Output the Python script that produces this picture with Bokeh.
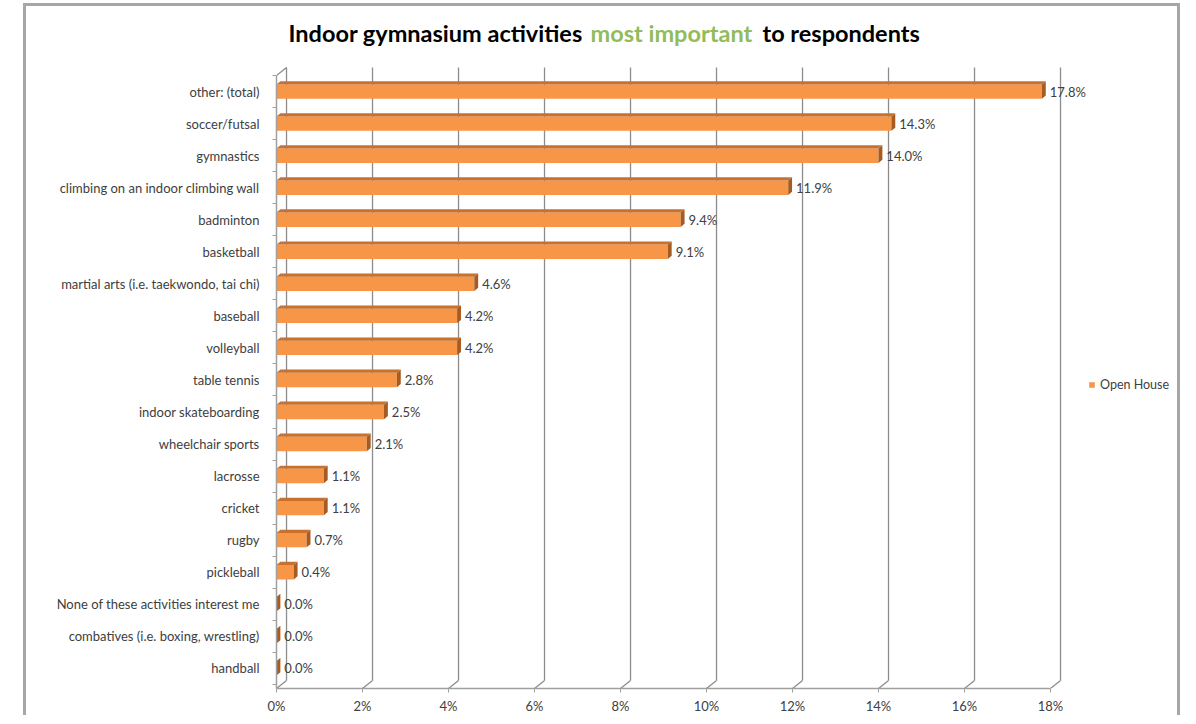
import numpy as np
from bokeh.plotting import figure
from bokeh.models import Range1d, FixedTicker, Label, Legend, LegendItem
from bokeh.core.properties import value
from bokeh.embed import file_html
from bokeh.resources import INLINE

# ---------------- data ----------------
categories = [
    "other: (total)", "soccer/futsal", "gymnastics",
    "climbing on an indoor climbing wall", "badminton", "basketball",
    "martial arts (i.e. taekwondo, tai chi)", "baseball", "volleyball",
    "table tennis", "indoor skateboarding", "wheelchair sports", "lacrosse",
    "cricket", "rugby", "pickleball", "None of these activities interest me",
    "combatives (i.e. boxing, wrestling)", "handball",
]
values = [17.8, 14.3, 14.0, 11.9, 9.4, 9.1, 4.6, 4.2, 4.2, 2.8, 2.5, 2.1,
          1.1, 1.1, 0.7, 0.4, 0.0, 0.0, 0.0]
value_labels = [f"{v:.1f}%" for v in values]
x_ticks = [0, 2, 4, 6, 8, 10, 12, 14, 16, 18]
x_tick_labels = ["0%", "2%", "4%", "6%", "8%", "10%", "12%", "14%", "16%", "18%"]
series_name = "Open House"
title_parts = ["Indoor gymnasium activities", "most important", "to respondents"]

# ---------------- style ----------------
FONT = "Lato"
TXT = "#404040"
GRID = "#8C8C8C"
AXIS = "#A0A0A0"
FRONT = "#F79646"
TOP = "#C8712F"
SIDE = "#A65B22"
GREEN = "#92BB5A"
PX_X = 43.0          # pixels per percent
PX_Y = 32.04         # pixels per category row
WALL_DX, WALL_DY = 0.233, 0.25
BAR_DX, BAR_DY, BAR_H = 0.09, 0.10, 0.45

n = len(categories)
idx = np.arange(n)
vals = np.array(values)
y_bottom = n - 1 + 0.63
frame_h = 712 - 6 - 30
y_top = y_bottom - frame_h / PX_Y

p = figure(width=1157, height=712, title=None,
           x_range=Range1d(0, 904 / PX_X), y_range=Range1d(y_bottom, y_top),
           output_backend="svg", toolbar_location=None,
           min_border_left=250, min_border_right=3, min_border_top=6, min_border_bottom=30)
p.styles = {"border-left": "3px solid #A6A6A6", "border-top": "3px solid #A6A6A6",
            "border-right": "3px solid #A6A6A6", "margin-left": "23px", "margin-top": "3px"}
p.outline_line_color = None
p.xgrid.visible = False
p.ygrid.visible = False
p.background_fill_color = "white"

# ---------------- 3D walls ----------------
xt = np.array(x_ticks, dtype=float)
p.segment(x0=xt + WALL_DX, y0=np.full(len(xt), -0.5 - WALL_DY),
          x1=xt + WALL_DX, y1=np.full(len(xt), y_bottom - WALL_DY),
          line_color=GRID, line_width=1.3)
p.segment(x0=xt, y0=np.full(len(xt), y_bottom),
          x1=xt + WALL_DX, y1=np.full(len(xt), y_bottom - WALL_DY),
          line_color=GRID, line_width=1.3)
p.segment(x0=[0], y0=[-0.5], x1=[WALL_DX], y1=[-0.5 - WALL_DY],
          line_color=GRID, line_width=1.3)

# ---------------- bars ----------------
bars = p.hbar(y=idx, left=0, right=vals, height=BAR_H, fill_color=FRONT, line_color=None)
top_xs = [[0, v, v + BAR_DX, BAR_DX] for v in vals]
top_ys = [[i - BAR_H / 2, i - BAR_H / 2, i - BAR_H / 2 - BAR_DY, i - BAR_H / 2 - BAR_DY] for i in idx]
p.patches(xs=top_xs, ys=top_ys, fill_color=TOP, line_color=None)
side_xs = [[v, v + BAR_DX, v + BAR_DX, v] for v in vals]
side_ys = [[i - BAR_H / 2, i - BAR_H / 2 - BAR_DY, i + BAR_H / 2 - BAR_DY, i + BAR_H / 2] for i in idx]
p.patches(xs=side_xs, ys=side_ys, fill_color=SIDE, line_color=None)

p.text(x=vals + BAR_DX, y=idx, text=value_labels, x_offset=4,
       text_baseline="middle", text_align="left", text_font=value(FONT),
       text_font_size="13px", text_color=TXT)

# ---------------- axes ----------------
xa = p.xaxis[0]
xa.ticker = FixedTicker(ticks=x_ticks)
xa.major_label_overrides = {t: l for t, l in zip(x_ticks, x_tick_labels)}
xa.bounds = (0, x_ticks[-1])
xa.axis_line_color = AXIS
xa.axis_line_width = 1.5
xa.major_tick_line_color = AXIS
xa.major_tick_out = 4
xa.major_tick_in = 0
xa.minor_tick_line_color = None
xa.major_label_standoff = 5
xa.major_label_text_font = FONT
xa.major_label_text_font_size = "13px"
xa.major_label_text_color = TXT

ya = p.yaxis[0]
ya.ticker = FixedTicker(ticks=list(idx), minor_ticks=list(np.arange(n + 1) - 0.5))
ya.major_label_overrides = {int(i): c for i, c in zip(idx, categories)}
ya.bounds = (-0.5, y_bottom)
ya.axis_line_color = AXIS
ya.axis_line_width = 1.5
ya.major_tick_line_color = None
ya.major_tick_out = 0
ya.major_tick_in = 0
ya.minor_tick_line_color = AXIS
ya.minor_tick_out = 4
ya.minor_tick_in = 0
ya.major_label_standoff = 13
ya.major_label_text_font = FONT
ya.major_label_text_font_size = "13px"
ya.major_label_text_color = TXT

# ---------------- title (pixel offsets from the 0% / first-row point) ----------------
title_px_x = [12, 314, 486]
title_px_y = -59
for txt, px, col in zip(title_parts, title_px_x, ["#000000", GREEN, "#000000"]):
    p.add_layout(Label(x=px / PX_X, y=title_px_y / PX_Y, text=txt,
                       text_font=FONT, text_font_style="bold", text_font_size="23.5px",
                       text_color=col, text_baseline="middle", text_align="left"))

# ---------------- legend ----------------
legend = Legend(items=[LegendItem(label=series_name, renderers=[bars])],
                location=(812, 296), padding=0, margin=0, spacing=0,
                glyph_width=7, glyph_height=7, label_height=14, label_standoff=5,
                label_text_font=FONT, label_text_font_size="12.5px", label_text_color=TXT,
                border_line_color=None, background_fill_alpha=0)
p.add_layout(legend)

open("out.html", "w").write(file_html(p, INLINE))
